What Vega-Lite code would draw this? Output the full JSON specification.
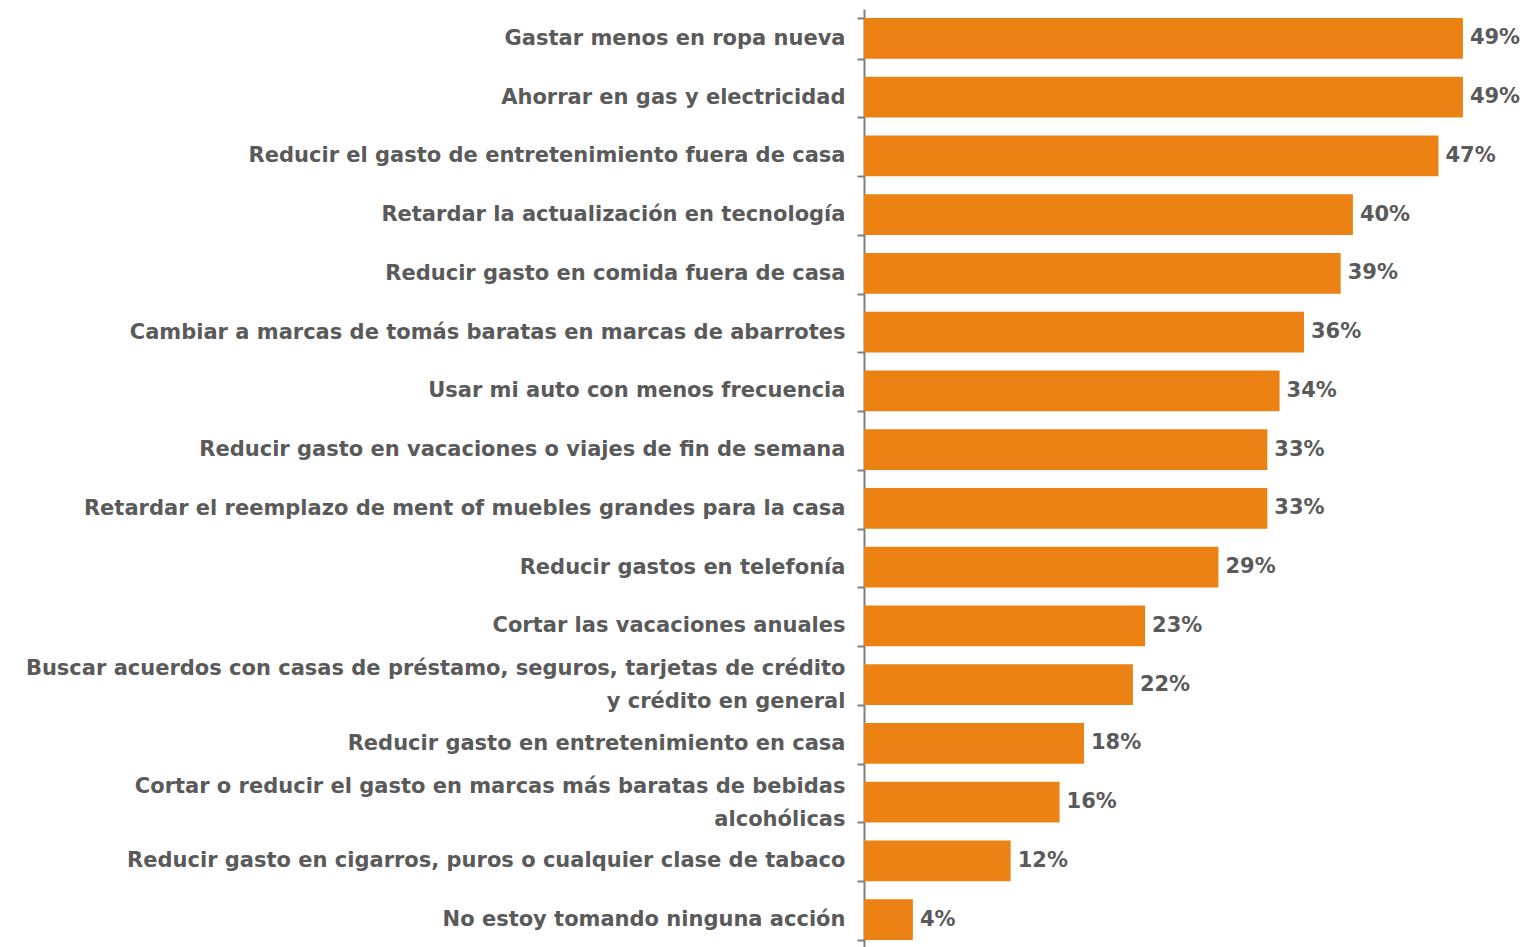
{
  "$schema": "https://vega.github.io/schema/vega-lite/v6.json",
  "width": 660,
  "height": 940,
  "autosize": {"type": "none"},
  "padding": {"left": 864, "top": 9, "right": 0, "bottom": 0},
  "background": "white",
  "config": {"view": {"stroke": null}},
  "data": {
    "values": [
      {"accion": "Gastar menos en ropa nueva", "valor": 0.49},
      {"accion": "Ahorrar en gas y electricidad", "valor": 0.49},
      {"accion": "Reducir el gasto de entretenimiento fuera de casa", "valor": 0.47},
      {"accion": "Retardar la actualización en tecnología", "valor": 0.40},
      {"accion": "Reducir gasto en comida fuera de casa", "valor": 0.39},
      {"accion": "Cambiar a marcas de  tomás baratas en marcas de abarrotes", "valor": 0.36},
      {"accion": "Usar mi auto con menos frecuencia", "valor": 0.34},
      {"accion": "Reducir gasto en vacaciones o viajes de fin de semana", "valor": 0.33},
      {"accion": "Retardar el reemplazo de ment of muebles grandes para la casa", "valor": 0.33},
      {"accion": "Reducir gastos en telefonía", "valor": 0.29},
      {"accion": "Cortar las vacaciones anuales", "valor": 0.23},
      {"accion": "Buscar acuerdos con casas de préstamo, seguros, tarjetas de crédito|y crédito en general", "valor": 0.22},
      {"accion": "Reducir gasto en entretenimiento en casa", "valor": 0.18},
      {"accion": "Cortar o reducir el gasto en marcas más baratas de bebidas|alcohólicas", "valor": 0.16},
      {"accion": "Reducir gasto en cigarros, puros o cualquier clase de tabaco", "valor": 0.12},
      {"accion": "No estoy tomando ninguna acción", "valor": 0.04}
    ]
  },
  "encoding": {
    "y": {
      "field": "accion",
      "type": "nominal",
      "sort": null,
      "title": null,
      "scale": {"paddingInner": 0.31, "paddingOuter": 0.155},
      "axis": {
        "labelExpr": "split(datum.label, '|')",
        "labelFont": "DejaVu Sans",
        "labelFontWeight": "bold",
        "labelFontSize": 21,
        "labelColor": "#5a5a5a",
        "labelLimit": 900,
        "labelPadding": 12,
        "labelLineHeight": 33,
        "labelOffset": {"condition": {"test": "isString(datum.value) && indexof(datum.value, '|') >= 0", "value": -16}, "value": 0},
        "tickSize": 7,
        "tickColor": "#7f7f7f",
        "tickWidth": 2,
        "tickBand": "extent",
        "domainColor": "#7f7f7f",
        "domainWidth": 2
      }
    },
    "x": {
      "field": "valor",
      "type": "quantitative",
      "scale": {"domain": [0, 0.54], "nice": false},
      "axis": null
    }
  },
  "layer": [
    {"mark": {"type": "bar", "color": "#EC8114"}},
    {
      "mark": {"type": "text", "align": "left", "dx": 7, "font": "DejaVu Sans", "fontWeight": "bold", "fontSize": 21, "color": "#5a5a5a"},
      "encoding": {"text": {"field": "valor", "type": "quantitative", "format": ".0%"}}
    }
  ]
}
